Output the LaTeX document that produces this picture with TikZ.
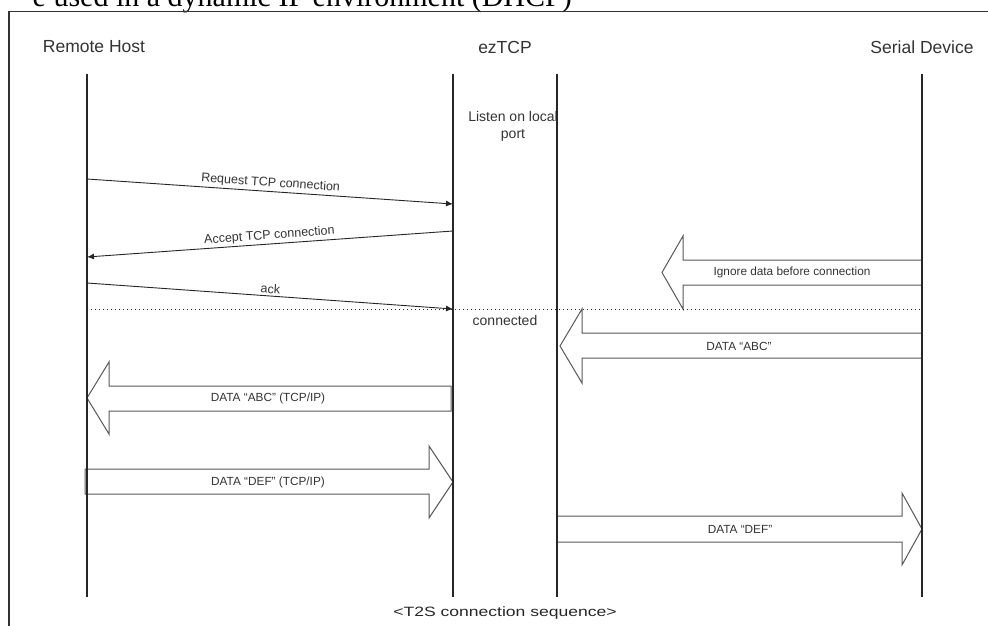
\documentclass[tikz,border=0pt]{standalone}
\usepackage{fontspec}
\setmainfont{Liberation Sans}
\newfontfamily\titlefont{Liberation Serif}
\usetikzlibrary{arrows.meta}
\begin{document}
\begin{tikzpicture}[x=1pt,y=-1pt,
  frame/.style={draw=black!80, line width=1.2pt},
  lifeline/.style={draw=black!85, line width=1.3pt},
  msg/.style={draw=black!85, line width=0.9pt, -{Latex[length=7pt,width=6pt]}},
  msgback/.style={draw=black!85, line width=0.9pt, {Latex[length=7pt,width=6pt]}-},
  msglabel/.style={font=\fontsize{12.5}{14}\selectfont, text=black!80, sloped, above, inner sep=2pt},
  blockarrow/.style={draw=black!65, line width=1pt, fill=white},
  blabel/.style={font=\fontsize{11.8}{14}\selectfont, text=black!80},
  header/.style={font=\fontsize{17.5}{20}\selectfont, text=black!80},
  note/.style={font=\fontsize{14}{17}\selectfont, text=black!80, align=center},
  sepline/.style={draw=black!85, line width=0.8pt, dash pattern=on 0.8pt off 3.2pt},
]
\useasboundingbox (0,0) rectangle (988,626);
\clip (0,0) rectangle (988,626);

% cut-off title
\node[anchor=base east, font=\titlefont\fontsize{30}{32}\selectfont, inner sep=0pt] (title) at (572,7) {e used in a dynamic IP environment (DHCP)};

% frame
\coordinate (frTL) at (9,11.5);
\coordinate (frBL) at (9,626);
\coordinate (frTR) at (988,11.5);
\draw[frame] (frBL) -- (frTL) -- (frTR);

% headers
\node[header] (rh) at (94,47) {Remote Host};
\node[header] (ez) at (505,47) {ezTCP};
\node[header] (sd) at (922,47) {Serial Device};

% lifeline coordinates
\coordinate (rhT) at (87,74);   \coordinate (rhB) at (87,597);
\coordinate (ezT) at (453,74);  \coordinate (ezB) at (453,597);
\coordinate (ez2T) at (557,74); \coordinate (ez2B) at (557,597);
\coordinate (sdT) at (922,74);  \coordinate (sdB) at (922,597);

% Listen on local port (clipped by lifeline)
\begin{scope}
\clip (453,95) rectangle (557,150);
\node[note] (listen) at (513,126) {Listen on local\\port};
\end{scope}

% block arrows
\draw[blockarrow] (922,260) -- (683,260) -- (683,236) -- (662,272.5) -- (683,309) -- (683,285) -- (922,285) -- cycle;
\draw[blockarrow] (922,333) -- (582,333) -- (582,309) -- (560,346) -- (582,383) -- (582,358) -- (922,358) -- cycle;
\draw[blockarrow] (451,386) -- (109,386) -- (109,362) -- (87,398) -- (109,434) -- (109,411) -- (451,411) -- cycle;
\draw[blockarrow] (85,469) -- (429,469) -- (429,446) -- (453,482) -- (429,518) -- (429,494) -- (85,494) -- cycle;
\draw[blockarrow] (557,516) -- (902,516) -- (902,493) -- (922,529) -- (902,565) -- (902,542) -- (557,542) -- cycle;

\node[blabel] (bl1) at (792,272.5) {Ignore data before connection};
\node[blabel] (bl2) at (739,346) {DATA “ABC”};
\node[blabel] (bl3) at (268,398) {DATA “ABC” (TCP/IP)};
\node[blabel] (bl4) at (268,482) {DATA “DEF” (TCP/IP)};
\node[blabel] (bl5) at (740,529) {DATA “DEF”};

% connected separator
\coordinate (sepL) at (87,309);
\coordinate (sepR) at (922,309);
\draw[sepline] (sepL) -- (sepR);
\node[note] (conn) at (505,320) {connected};

% lifelines
\draw[lifeline] (rhT) -- (rhB);
\draw[lifeline] (ezT) -- (ezB);
\draw[lifeline] (ez2T) -- (ez2B);
\draw[lifeline] (sdT) -- (sdB);

% messages
\coordinate (m1a) at (87,179);  \coordinate (m1b) at (453,204);
\coordinate (m2a) at (87,257);  \coordinate (m2b) at (453,231);
\coordinate (m3a) at (87,283);  \coordinate (m3b) at (453,309);
\draw[msg] (m1a) -- node[msglabel] (l1) {Request TCP connection} (m1b);
\draw[msgback] (m2a) -- node[msglabel] (l2) {Accept TCP connection} (m2b);
\draw[msg] (m3a) -- node[msglabel] (l3) {ack} (m3b);

% caption
\node[text=black!85] (cap) at (505,613) {\scalebox{1.3}[1]{\fontsize{13.5}{16}\selectfont <T2S connection sequence>}};
\end{tikzpicture}
\end{document}
